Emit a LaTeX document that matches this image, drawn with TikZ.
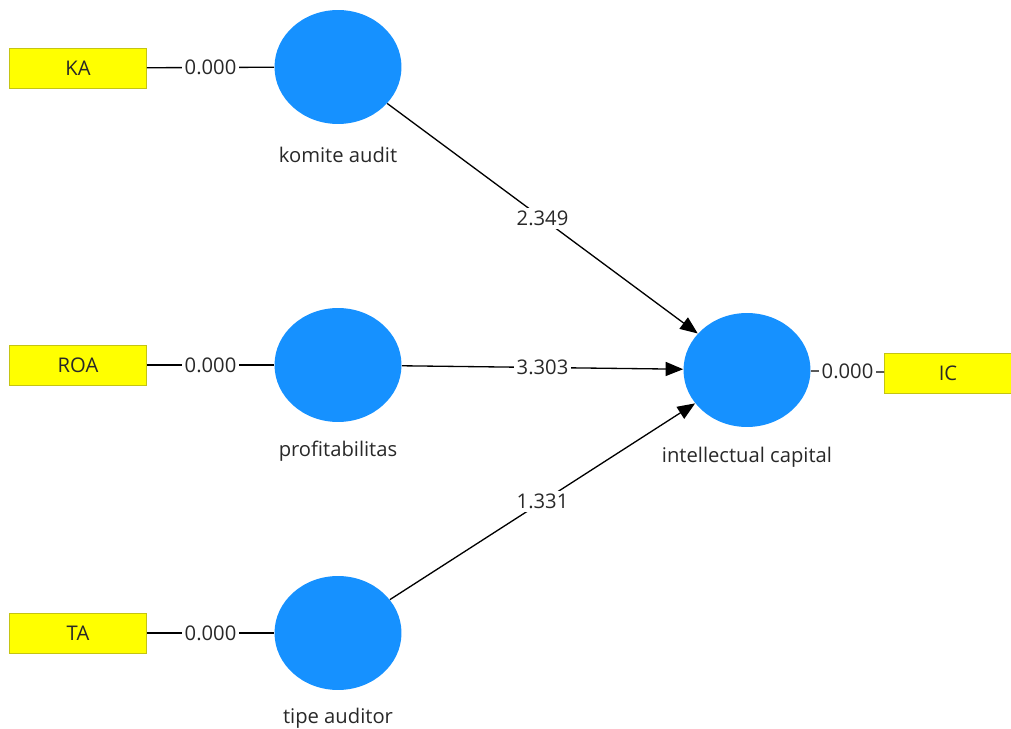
\documentclass[tikz,border=0pt]{standalone}
\usepackage{fontspec}
\setmainfont{Open Sans}
\usetikzlibrary{shapes.geometric, arrows.meta}
\definecolor{LatentBlue}{RGB}{22,145,255}
\definecolor{ItemYellow}{RGB}{255,255,0}
\definecolor{ItemBorder}{RGB}{196,196,20}
\definecolor{TextGray}{RGB}{40,40,40}

\tikzset{
    latent/.style={ellipse, fill=LatentBlue, minimum width=2.54cm, minimum height=2.28cm, inner sep=0pt},
    item/.style={rectangle, draw=ItemBorder, fill=ItemYellow, minimum width=2.74cm, minimum height=0.8cm, inner sep=0pt},
    coef/.style={fill=white, inner sep=1.5pt, text=TextGray},
    effect/.style={line width=0.75pt, -{Triangle[length=10pt, width=8pt]}},
}

\begin{document}
\begin{tikzpicture}[x=0.02cm, y=-0.02cm, font=\fontsize{11.5}{13.8}\selectfont, text=TextGray]
    \useasboundingbox (0, 0) rectangle (1011, 729);

    \node[latent] (komite) at (338, 67) {};
    \node[latent] (profit) at (338, 365) {};
    \node[latent] (tipe) at (338, 633) {};
    \node[latent] (intcap) at (747, 370) {};

    \node at (338, 155) (komitename) {komite audit};
    \node at (338, 451) (profitname) {profitabilitas};
    \node at (338, 718) (tipename) {tipe auditor};
    \node at (747, 457) (intcapname) {intellectual capital};

    \node[item] (KA) at (78, 68) {KA};
    \node[item] (ROA) at (78, 365) {ROA};
    \node[item] (TA) at (78, 633) {TA};
    \node[item, minimum width=2.54cm] (IC) at (948, 373) {IC};

    \draw[line width=0.75pt] (KA) -- node[coef] {0.000} (komite);
    \draw[line width=0.75pt] (ROA) -- node[coef] {0.000} (profit);
    \draw[line width=0.75pt] (TA) -- node[coef] {0.000} (tipe);
    \draw[line width=0.75pt] (intcap) -- node[coef] {0.000} (IC);

    \draw[effect] (komite) -- node[coef] {2.349} (intcap);
    \draw[effect] (profit) -- node[coef] {3.303} (intcap);
    \draw[effect] (tipe) -- node[coef] {1.331} (intcap);
\end{tikzpicture}
\end{document}
